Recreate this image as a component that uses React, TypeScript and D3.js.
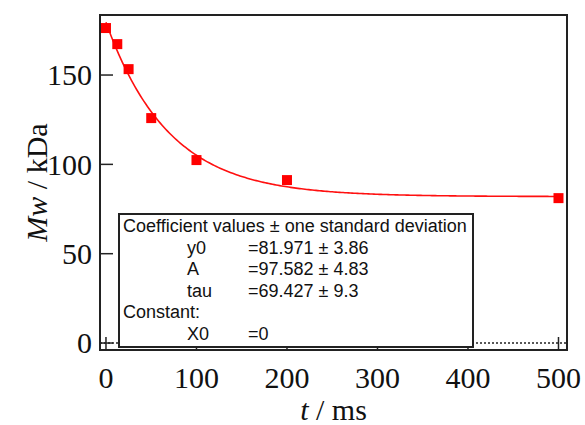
import React from "react";
import * as d3 from "d3";

// measured points (t in ms, Mw in kDa)
const times = [0, 12.5, 25, 50, 100, 200, 500];
const mwValues = [176.3, 167.3, 153.3, 125.9, 102.4, 91.2, 81.1];

// fit coefficients shown in the box
const fitY0 = 81.971;
const fitA = 97.582;
const fitTau = 69.427;
const fitX0 = 0;

const xTicks = [0, 100, 200, 300, 400, 500];
const yTicks = [0, 50, 100, 150];

const coefRows = [
  ["y0", "=81.971 ± 3.86"],
  ["A", "=97.582 ± 4.83"],
  ["tau", "=69.427 ± 9.3"],
];
const constRows = [["X0", "=0"]];

const W = 585;
const H = 425;
const left = 100, right = 567, top = 15, bottom = 350;

export default function App() {
  const x = d3.scaleLinear().domain([-6.6, 509.4]).range([left, right]);
  const y = d3.scaleLinear().domain([-3.9, 183.6]).range([bottom, top]);

  const fitPts = d3.range(fitX0, 500.5, 2).map(t => [t, fitY0 + fitA * Math.exp(-(t - fitX0) / fitTau)]);
  const line = d3.line<number[]>().x(d => x(d[0])).y(d => y(d[1]));

  const serif = "'Liberation Serif', 'Times New Roman', serif";
  const sans = "'Liberation Sans', Arial, sans-serif";
  const frame = "#222";

  // legend box
  const lx = 119, ly = 214, lw = 354, lh = 133;
  const lineH = 21.5;
  const base0 = 232;

  return (
    <svg width={W} height={H} style={{ position: "absolute", left: 0, top: 0 }}>
      <rect width={W} height={H} fill="#fff" />

      {/* dotted zero line */}
      <line x1={left} x2={right} y1={y(0)} y2={y(0)} stroke="#222" strokeWidth={1.5} strokeDasharray="2,2" />

      {/* ticks (inward) */}
      {yTicks.map(t => (
        <line key={"yt" + t} x1={left} x2={left + 13} y1={y(t)} y2={y(t)} stroke={frame} strokeWidth={1.5} />
      ))}
      {xTicks.map(t => (
        <line key={"xt" + t} x1={x(t)} x2={x(t)} y1={bottom} y2={bottom - 13} stroke={frame} strokeWidth={1.5} />
      ))}

      {/* fit curve */}
      <path d={line(fitPts) || ""} fill="none" stroke="#ff1010" strokeWidth={1.6} />

      {/* data markers */}
      {times.map((t, i) => (
        <rect key={"p" + i} x={x(t) - 5} y={y(mwValues[i]) - 5} width={10} height={10} fill="#ff0000" />
      ))}

      {/* frame */}
      <rect x={left} y={top} width={right - left} height={bottom - top} fill="none" stroke={frame} strokeWidth={2} />

      {/* tick labels */}
      {yTicks.map(t => (
        <text key={"yl" + t} x={92} y={y(t)} dy="0.34em" textAnchor="end" fontFamily={serif} fontSize={30} fill="#111">
          {t}
        </text>
      ))}
      {xTicks.map(t => (
        <text key={"xl" + t} x={x(t)} y={388} textAnchor="middle" fontFamily={serif} fontSize={30} fill="#111">
          {t}
        </text>
      ))}

      {/* axis titles */}
      <text x={(left + right) / 2} y={420} textAnchor="middle" fontFamily={serif} fontSize={30} fill="#111">
        <tspan fontStyle="italic">t</tspan> / ms
      </text>
      <text transform={`translate(47,${(top + bottom) / 2}) rotate(-90)`} textAnchor="middle" fontFamily={serif} fontSize={30} fill="#111">
        <tspan fontStyle="italic">Mw</tspan> / kDa
      </text>

      {/* coefficient box */}
      <rect x={lx} y={ly} width={lw} height={lh} fill="#fff" stroke={frame} strokeWidth={2} />
      <g fontFamily={sans} fontSize={18} fill="#111">
        <text x={123} y={base0}>Coefficient values ± one standard deviation</text>
        {coefRows.map((r, i) => (
          <g key={r[0]}>
            <text x={187} y={base0 + lineH * (i + 1)}>{r[0]}</text>
            <text x={248} y={base0 + lineH * (i + 1)}>{r[1]}</text>
          </g>
        ))}
        <text x={123} y={base0 + lineH * 4}>Constant:</text>
        {constRows.map((r, i) => (
          <g key={r[0]}>
            <text x={187} y={base0 + lineH * (5 + i)}>{r[0]}</text>
            <text x={248} y={base0 + lineH * (5 + i)}>{r[1]}</text>
          </g>
        ))}
      </g>
    </svg>
  );
}
